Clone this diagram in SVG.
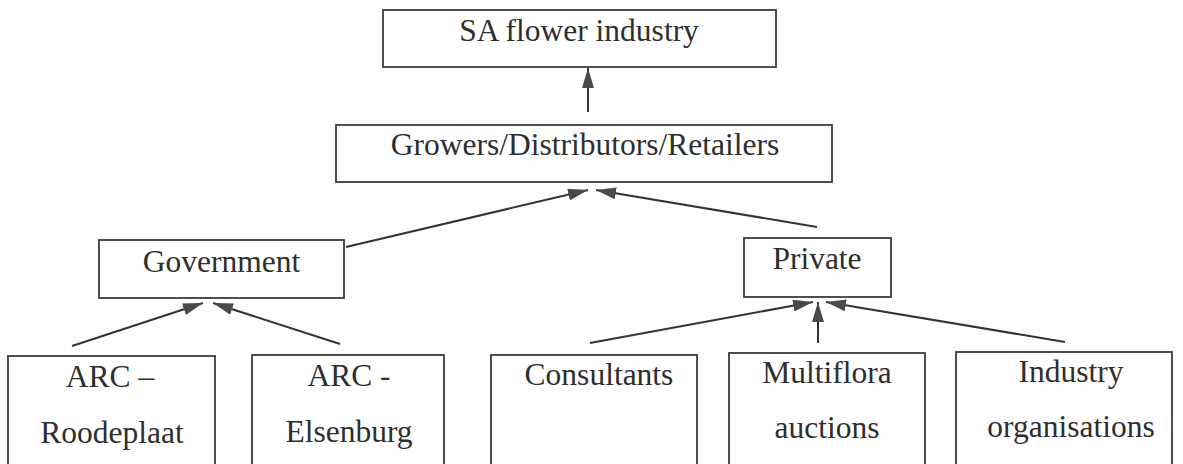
<svg xmlns="http://www.w3.org/2000/svg" width="1183" height="464" viewBox="0 0 1183 464">
  <style>
    .box { fill: #ffffff; stroke: #3c3c3c; stroke-width: 1.8; }
    .lbl { font-family: "Liberation Serif", "Times New Roman", serif; font-size: 31.5px; fill: #2e2e2e; text-anchor: middle; }
    .link { stroke: #333333; stroke-width: 2; fill: none; marker-end: url(#head); }
  </style>
  <defs>
    <marker id="head" markerUnits="userSpaceOnUse" markerWidth="20" markerHeight="12" refX="20" refY="6" orient="auto">
      <path d="M0,0 L20,6 L0,12 z" fill="#4a4a4a"/>
    </marker>
  </defs>
  <rect width="1183" height="464" fill="#ffffff"/>

  <!-- connectors: every arrow points up to the parent node -->
  <g id="connectors">
    <line class="link" x1="588" y1="112" x2="588" y2="68"/>
    <line class="link" x1="346" y1="247" x2="588" y2="190"/>
    <line class="link" x1="817" y1="227" x2="596" y2="190"/>
    <line class="link" x1="72" y1="346" x2="203" y2="303"/>
    <line class="link" x1="340" y1="344" x2="213" y2="303"/>
    <line class="link" x1="590" y1="343" x2="813" y2="302"/>
    <line class="link" x1="818" y1="343" x2="818" y2="302"/>
    <line class="link" x1="1065" y1="342" x2="826" y2="302"/>
  </g>

  <g id="sa-flower-industry">
    <rect class="box" x="383" y="10" width="393" height="57"/>
    <text class="lbl" x="579" y="41">SA flower industry</text>
  </g>

  <g id="growers">
    <rect class="box" x="336" y="125" width="496" height="57"/>
    <text class="lbl" x="585" y="155">Growers/Distributors/Retailers</text>
  </g>

  <g id="government">
    <rect class="box" x="99" y="240" width="245" height="58"/>
    <text class="lbl" x="221.5" y="272">Government</text>
  </g>

  <g id="private">
    <rect class="box" x="744" y="238" width="147" height="59"/>
    <text class="lbl" x="817" y="269">Private</text>
  </g>

  <g id="arc-roodeplaat">
    <rect class="box" x="8" y="356" width="207" height="130"/>
    <text class="lbl" x="110" y="387">ARC –</text>
    <text class="lbl" x="112" y="443">Roodeplaat</text>
  </g>

  <g id="arc-elsenburg">
    <rect class="box" x="252" y="355" width="192" height="130"/>
    <text class="lbl" x="349" y="386">ARC -</text>
    <text class="lbl" x="349" y="442">Elsenburg</text>
  </g>

  <g id="consultants">
    <rect class="box" x="491" y="355" width="206" height="130"/>
    <text class="lbl" x="599" y="385">Consultants</text>
  </g>

  <g id="multiflora">
    <rect class="box" x="729" y="353" width="196" height="130"/>
    <text class="lbl" x="827" y="383">Multiflora</text>
    <text class="lbl" x="827" y="438">auctions</text>
  </g>

  <g id="industry-organisations">
    <rect class="box" x="956" y="352" width="216" height="130"/>
    <text class="lbl" x="1071" y="382">Industry</text>
    <text class="lbl" x="1071" y="437">organisations</text>
  </g>
</svg>
